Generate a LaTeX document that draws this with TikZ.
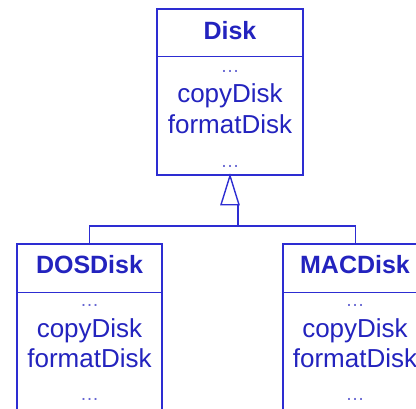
\documentclass[tikz,border=0pt]{standalone}
\usepackage{fontspec}
\setmainfont{Liberation Sans}
\usetikzlibrary{calc}
\definecolor{umlblue}{RGB}{45,45,210}
\definecolor{txtblue}{RGB}{35,35,190}
\begin{document}
\begin{tikzpicture}[x=1pt,y=-1pt,line width=1.4pt,
  classbox/.style={draw=umlblue,rectangle,inner sep=0pt},
  title/.style={text=txtblue,font=\bfseries\fontsize{25}{28}\selectfont,anchor=base,inner sep=0pt},
  member/.style={text=txtblue,font=\fontsize{26}{28}\selectfont,anchor=base,inner sep=0pt},
  dots/.style={text=txtblue!70,font=\fontsize{19}{20}\selectfont,anchor=base,inner sep=0pt},
  conn/.style={draw=umlblue}]
\useasboundingbox (0,0) rectangle (416,408);
\clip (0,0) rectangle (416,408);
% class boxes
\node[classbox,minimum width=146pt,minimum height=166pt] (disk) at (230,92) {};
\node[classbox,minimum width=145pt,minimum height=190pt] (dos) at (89.5,339) {};
\node[classbox,minimum width=145pt,minimum height=190pt] (mac) at (355.5,339) {};
% dividers
\draw[conn] ($(disk.north west)+(0,48)$) -- ($(disk.north east)+(0,48)$);
\draw[conn] ($(dos.north west)+(0,49)$) -- ($(dos.north east)+(0,49)$);
\draw[conn] ($(mac.north west)+(0,49)$) -- ($(mac.north east)+(0,49)$);
% texts Disk
\node[title] (t1) at (230,39) {Disk};
\node[dots] (d1a) at (230,72) {…};
\node[member] (m1a) at (230,102) {copyDisk};
\node[member] (m1b) at (230,133) {formatDisk};
\node[dots] (d1b) at (230,167) {…};
% texts DOSDisk
\node[title] (t2) at (89.5,273) {DOSDisk};
\node[dots] (d2a) at (89.5,306) {…};
\node[member] (m2a) at (89.5,337) {copyDisk};
\node[member] (m2b) at (89.5,367) {formatDisk};
\node[dots] (d2b) at (89.5,400) {…};
% texts MACDisk
\node[title] (t3) at (355,273) {MACDisk};
\node[dots] (d3a) at (355,306) {…};
\node[member] (m3a) at (355,337) {copyDisk};
\node[member] (m3b) at (355,367) {formatDisk};
\node[dots] (d3b) at (355,400) {…};
% generalization
\coordinate (tl) at ($(disk.south)+(-9,29)$);
\coordinate (tr) at ($(disk.south)+(9,29)$);
\coordinate (tb) at ($(disk.south)+(8,29)$);
\coordinate (bus) at (238,226);
\draw[conn,line join=miter] (disk.south) -- (tl) -- (tr) -- cycle;
\draw[conn] (tb) -- (bus);
\draw[conn] (dos.north) |- (bus) -| (mac.north);
\end{tikzpicture}
\end{document}
